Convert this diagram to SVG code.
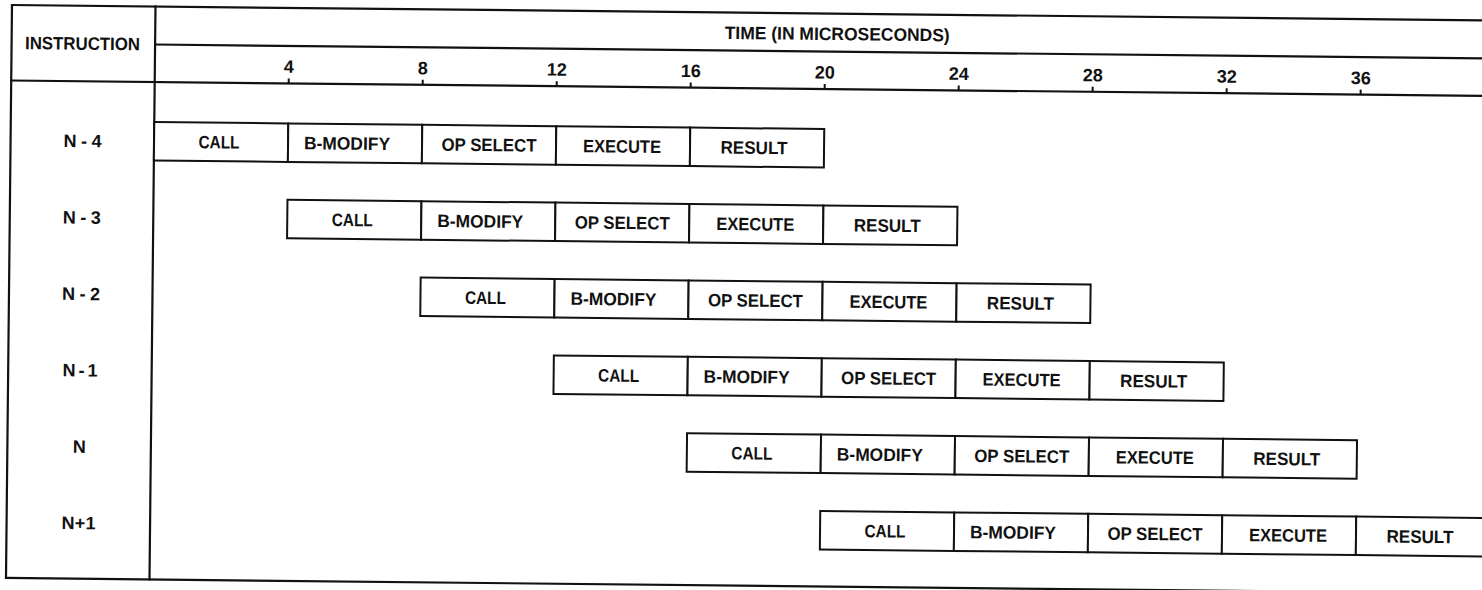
<svg xmlns="http://www.w3.org/2000/svg" width="1482" height="590" viewBox="0 0 1482 590">
<style>
.ln{stroke:#111;stroke-width:2.2;fill:none;stroke-linecap:square}
.tk{stroke:#111;stroke-width:2;fill:none}
.bx{fill:#fff;stroke:#111;stroke-width:2}
.t{font-family:"Liberation Sans",Arial,sans-serif;font-weight:bold;font-size:18px;fill:#111;text-anchor:middle}
</style>
<rect x="0" y="0" width="1482" height="590" fill="#fff"/>
<g transform="translate(12,5) rotate(0.6)">
<g id="grid">
<line class="ln" x1="0" y1="0" x2="1520" y2="0"/>
<line class="ln" x1="0" y1="0" x2="0" y2="573"/>
<line class="ln" x1="0" y1="573" x2="1520" y2="573"/>
<line class="ln" x1="143.5" y1="0" x2="143.5" y2="573"/>
<line class="ln" x1="143.5" y1="38" x2="1520" y2="38"/>
<line class="ln" x1="0" y1="75.5" x2="1520" y2="75.5"/>
<path class="tk" d="M277.5 70.5V75.5M411.5 70.5V75.5M545.5 70.5V75.5M679.5 70.5V75.5M813.5 70.5V75.5M947.5 70.5V75.5M1081.5 70.5V75.5M1215.5 70.5V75.5M1349.5 70.5V75.5"/>
</g>
<g id="header">
<text class="t" x="71" y="44" textLength="115" lengthAdjust="spacingAndGlyphs">INSTRUCTION</text>
<text class="t" x="825.5" y="26.5" textLength="225" lengthAdjust="spacingAndGlyphs">TIME (IN MICROSECONDS)</text>
<text class="t" x="277.5" y="65" font-size="17">4</text>
<text class="t" x="411.5" y="65" font-size="17">8</text>
<text class="t" x="545.5" y="65" font-size="17">12</text>
<text class="t" x="679.5" y="65" font-size="17">16</text>
<text class="t" x="813.5" y="65" font-size="17">20</text>
<text class="t" x="947.5" y="65" font-size="17">24</text>
<text class="t" x="1081.5" y="65" font-size="17">28</text>
<text class="t" x="1215.5" y="65" font-size="17">32</text>
<text class="t" x="1349.5" y="65" font-size="17">36</text>
</g>
<g id="labels">
<g id="label-n-4"><text class="t" x="72" y="141.5" textLength="38">N-4</text></g>
<g id="label-n-3"><text class="t" x="72" y="217.9" textLength="38">N-3</text></g>
<g id="label-n-2"><text class="t" x="72" y="294.3" textLength="38">N-2</text></g>
<g id="label-n-1"><text class="t" x="72" y="370.7" textLength="35">N-1</text></g>
<g id="label-n"><text class="t" x="72" y="447.1">N</text></g>
<g id="label-n+1"><text class="t" x="72" y="523.5" textLength="34">N+1</text></g>
</g>
<g id="row-n-4">
<g id="n-4-call"><rect class="bx" x="143.5" y="115.5" width="134" height="38.5"/><text class="t" x="208.5" y="141.2" textLength="41" lengthAdjust="spacingAndGlyphs">CALL</text></g>
<g id="n-4-bmodify"><rect class="bx" x="277.5" y="115.5" width="134" height="38.5"/><text class="t" x="336.5" y="141.2" textLength="86" lengthAdjust="spacingAndGlyphs">B-MODIFY</text></g>
<g id="n-4-opselect"><rect class="bx" x="411.5" y="115.5" width="134" height="38.5"/><text class="t" x="478.5" y="141.2" textLength="95" lengthAdjust="spacingAndGlyphs">OP SELECT</text></g>
<g id="n-4-execute"><rect class="bx" x="545.5" y="115.5" width="134" height="38.5"/><text class="t" x="611.5" y="141.2" textLength="78" lengthAdjust="spacingAndGlyphs">EXECUTE</text></g>
<g id="n-4-result"><rect class="bx" x="679.5" y="115.5" width="134" height="38.5"/><text class="t" x="743.5" y="141.2" textLength="67" lengthAdjust="spacingAndGlyphs">RESULT</text></g>
</g>
<g id="row-n-3">
<g id="n-3-call"><rect class="bx" x="277.5" y="191.9" width="134" height="38.5"/><text class="t" x="342.5" y="217.6" textLength="41" lengthAdjust="spacingAndGlyphs">CALL</text></g>
<g id="n-3-bmodify"><rect class="bx" x="411.5" y="191.9" width="134" height="38.5"/><text class="t" x="470.5" y="217.6" textLength="86" lengthAdjust="spacingAndGlyphs">B-MODIFY</text></g>
<g id="n-3-opselect"><rect class="bx" x="545.5" y="191.9" width="134" height="38.5"/><text class="t" x="612.5" y="217.6" textLength="95" lengthAdjust="spacingAndGlyphs">OP SELECT</text></g>
<g id="n-3-execute"><rect class="bx" x="679.5" y="191.9" width="134" height="38.5"/><text class="t" x="745.5" y="217.6" textLength="78" lengthAdjust="spacingAndGlyphs">EXECUTE</text></g>
<g id="n-3-result"><rect class="bx" x="813.5" y="191.9" width="134" height="38.5"/><text class="t" x="877.5" y="217.6" textLength="67" lengthAdjust="spacingAndGlyphs">RESULT</text></g>
</g>
<g id="row-n-2">
<g id="n-2-call"><rect class="bx" x="411.5" y="268.3" width="134" height="38.5"/><text class="t" x="476.5" y="294" textLength="41" lengthAdjust="spacingAndGlyphs">CALL</text></g>
<g id="n-2-bmodify"><rect class="bx" x="545.5" y="268.3" width="134" height="38.5"/><text class="t" x="604.5" y="294" textLength="86" lengthAdjust="spacingAndGlyphs">B-MODIFY</text></g>
<g id="n-2-opselect"><rect class="bx" x="679.5" y="268.3" width="134" height="38.5"/><text class="t" x="746.5" y="294" textLength="95" lengthAdjust="spacingAndGlyphs">OP SELECT</text></g>
<g id="n-2-execute"><rect class="bx" x="813.5" y="268.3" width="134" height="38.5"/><text class="t" x="879.5" y="294" textLength="78" lengthAdjust="spacingAndGlyphs">EXECUTE</text></g>
<g id="n-2-result"><rect class="bx" x="947.5" y="268.3" width="134" height="38.5"/><text class="t" x="1011.5" y="294" textLength="67" lengthAdjust="spacingAndGlyphs">RESULT</text></g>
</g>
<g id="row-n-1">
<g id="n-1-call"><rect class="bx" x="545.5" y="344.7" width="134" height="38.5"/><text class="t" x="610.5" y="370.4" textLength="41" lengthAdjust="spacingAndGlyphs">CALL</text></g>
<g id="n-1-bmodify"><rect class="bx" x="679.5" y="344.7" width="134" height="38.5"/><text class="t" x="738.5" y="370.4" textLength="86" lengthAdjust="spacingAndGlyphs">B-MODIFY</text></g>
<g id="n-1-opselect"><rect class="bx" x="813.5" y="344.7" width="134" height="38.5"/><text class="t" x="880.5" y="370.4" textLength="95" lengthAdjust="spacingAndGlyphs">OP SELECT</text></g>
<g id="n-1-execute"><rect class="bx" x="947.5" y="344.7" width="134" height="38.5"/><text class="t" x="1013.5" y="370.4" textLength="78" lengthAdjust="spacingAndGlyphs">EXECUTE</text></g>
<g id="n-1-result"><rect class="bx" x="1081.5" y="344.7" width="134" height="38.5"/><text class="t" x="1145.5" y="370.4" textLength="67" lengthAdjust="spacingAndGlyphs">RESULT</text></g>
</g>
<g id="row-n">
<g id="n-call"><rect class="bx" x="679.5" y="421.1" width="134" height="38.5"/><text class="t" x="744.5" y="446.8" textLength="41" lengthAdjust="spacingAndGlyphs">CALL</text></g>
<g id="n-bmodify"><rect class="bx" x="813.5" y="421.1" width="134" height="38.5"/><text class="t" x="872.5" y="446.8" textLength="86" lengthAdjust="spacingAndGlyphs">B-MODIFY</text></g>
<g id="n-opselect"><rect class="bx" x="947.5" y="421.1" width="134" height="38.5"/><text class="t" x="1014.5" y="446.8" textLength="95" lengthAdjust="spacingAndGlyphs">OP SELECT</text></g>
<g id="n-execute"><rect class="bx" x="1081.5" y="421.1" width="134" height="38.5"/><text class="t" x="1147.5" y="446.8" textLength="78" lengthAdjust="spacingAndGlyphs">EXECUTE</text></g>
<g id="n-result"><rect class="bx" x="1215.5" y="421.1" width="134" height="38.5"/><text class="t" x="1279.5" y="446.8" textLength="67" lengthAdjust="spacingAndGlyphs">RESULT</text></g>
</g>
<g id="row-n+1">
<g id="n+1-call"><rect class="bx" x="813.5" y="497.5" width="134" height="38.5"/><text class="t" x="878.5" y="523.2" textLength="41" lengthAdjust="spacingAndGlyphs">CALL</text></g>
<g id="n+1-bmodify"><rect class="bx" x="947.5" y="497.5" width="134" height="38.5"/><text class="t" x="1006.5" y="523.2" textLength="86" lengthAdjust="spacingAndGlyphs">B-MODIFY</text></g>
<g id="n+1-opselect"><rect class="bx" x="1081.5" y="497.5" width="134" height="38.5"/><text class="t" x="1148.5" y="523.2" textLength="95" lengthAdjust="spacingAndGlyphs">OP SELECT</text></g>
<g id="n+1-execute"><rect class="bx" x="1215.5" y="497.5" width="134" height="38.5"/><text class="t" x="1281.5" y="523.2" textLength="78" lengthAdjust="spacingAndGlyphs">EXECUTE</text></g>
<g id="n+1-result"><rect class="bx" x="1349.5" y="497.5" width="134" height="38.5"/><text class="t" x="1413.5" y="523.2" textLength="67" lengthAdjust="spacingAndGlyphs">RESULT</text></g>
</g>
<g id="connectors"></g>
</g>
</svg>
